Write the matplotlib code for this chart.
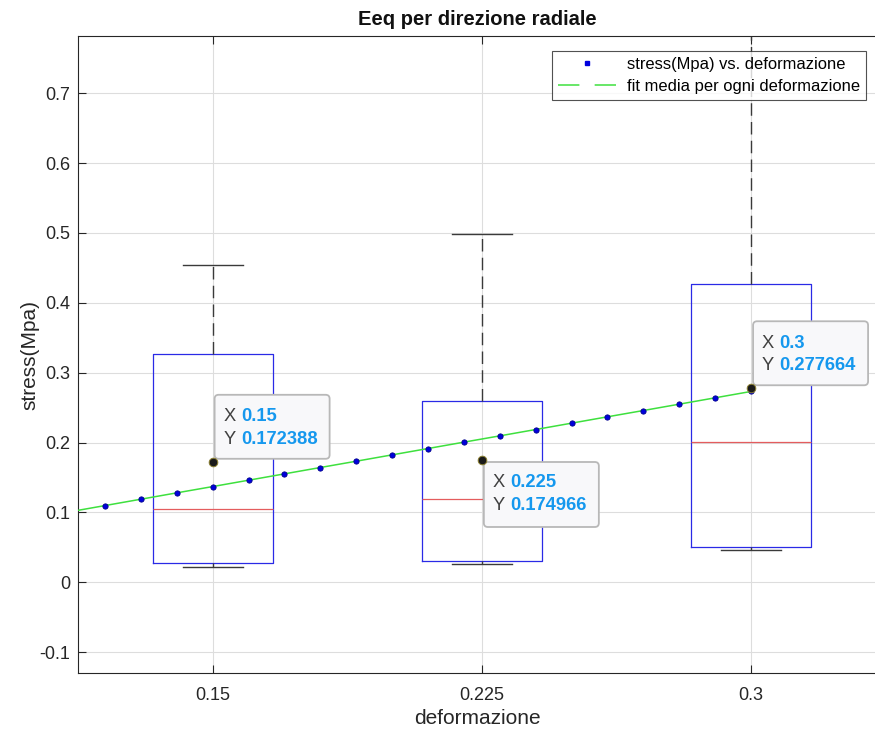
import matplotlib
matplotlib.use('Agg')
import matplotlib.pyplot as plt
import matplotlib.transforms as mtransforms
from matplotlib.patches import FancyBboxPatch
from matplotlib.lines import Line2D

plt.rcParams['font.family'] = ['Liberation Sans', 'DejaVu Sans']

# ---------------- data ----------------
categories = ['0.15', '0.225', '0.3']
positions = [0.15, 0.225, 0.3]
whisker_low = [0.0223, 0.0262, 0.0467]
q1 = [0.0272, 0.0301, 0.0508]
medians = [0.1045, 0.1189, 0.2005]
q3 = [0.3265, 0.2596, 0.4263]
whisker_high = [0.4544, 0.4984, 0.85]
means = [0.172388, 0.174966, 0.277664]

fit_x = [0.10, 0.11, 0.12, 0.13, 0.14, 0.15, 0.16, 0.17, 0.18, 0.19, 0.20,
         0.21, 0.22, 0.23, 0.24, 0.25, 0.26, 0.27, 0.28, 0.29, 0.30]
fit_y = [0.0916, 0.1006, 0.1097, 0.1188, 0.1279, 0.1369, 0.1460, 0.1551,
         0.1642, 0.1732, 0.1823, 0.1914, 0.2005, 0.2095, 0.2186, 0.2277,
         0.2368, 0.2458, 0.2549, 0.2640, 0.2731]

y_ticks = [-0.1, 0.0, 0.1, 0.2, 0.3, 0.4, 0.5, 0.6, 0.7]
y_tick_labels = ['-0.1', '0', '0.1', '0.2', '0.3', '0.4', '0.5', '0.6', '0.7']

legend_labels = ['stress(Mpa) vs. deformazione', 'fit media per ogni deformazione']

# ---------------- figure ----------------
W, H = 875, 731
fig = plt.figure(figsize=(W / 100, H / 100), dpi=100)
ax_left, ax_right, ax_top, ax_bottom = 78, 876, 36, 673
ax = fig.add_axes([ax_left / W, (H - ax_bottom) / H,
                   (ax_right - ax_left) / W, (ax_bottom - ax_top) / H])

ax.grid(True, color='#dddddd', lw=0.8, zorder=0)
ax.set_axisbelow(True)

stats = []
for i in range(len(positions)):
    stats.append(dict(whislo=whisker_low[i], q1=q1[i], med=medians[i],
                      q3=q3[i], whishi=whisker_high[i], fliers=[]))

ax.bxp(stats, positions=positions, widths=0.0334, capwidths=0.0167,
       showfliers=False, manage_ticks=False,
       boxprops=dict(color='#2a2ae6', lw=0.9),
       medianprops=dict(color='#e45c5e', lw=0.9),
       whiskerprops=dict(color='#3a3a3a', lw=1.0, linestyle=(0, (9, 4.5))),
       capprops=dict(color='#3a3a3a', lw=1.0))

# fit line + points
ax.plot(fit_x, fit_y, color='#3ee03e', lw=1.1, zorder=4)
ax.plot(fit_x, fit_y, 'o', color='#0000dd', ms=3.8, mec='#00008b', mew=0.6,
        ls='none', zorder=5)

# mean points (data tips)
ax.plot(positions, means, 'o', mfc='#1a1a1a', mec='#8a7e30', ms=6.2, mew=0.7,
        ls='none', zorder=13)

ax.set_xlim(0.1125, 0.3348)
ax.set_ylim(-0.13, 0.782)
ax.set_xticks(positions)
ax.set_xticklabels(categories)
ax.set_yticks(y_ticks)
ax.set_yticklabels(y_tick_labels)
ax.tick_params(direction='in', length=6, width=0.8, top=True, right=False,
               labelsize=13, colors='#262626')
ax.tick_params(axis='x', pad=10)
ax.tick_params(axis='y', pad=5.5)
for s in ax.spines.values():
    s.set_color('#262626')
    s.set_linewidth(0.8)
ax.spines['right'].set_visible(False)

ax.set_xlabel('deformazione', fontsize=15, color='#262626', labelpad=4)
ax.set_ylabel('stress(Mpa)', fontsize=15, color='#262626', va='center')
ax.yaxis.set_label_coords((30 - ax_left) / (ax_right - ax_left), 0.5)
ax.set_title('Eeq per direzione radiale', fontsize=14.5, fontweight='bold',
             color='#111111', pad=8)

# legend
handles = [Line2D([], [], marker='s', ms=3, color='#0000dd', ls='none'),
           Line2D([], [], color='#3ee03e', lw=1.1, ls=(0, (14, 10)))]
leg = ax.legend(handles, legend_labels, loc='upper right',
                bbox_to_anchor=((866 - ax_left) / (ax_right - ax_left),
                                (ax_bottom - 51) / (ax_bottom - ax_top)),
                borderaxespad=0, fontsize=11.9, frameon=True, fancybox=False,
                handlelength=3.5, handletextpad=0.7, labelspacing=0.42,
                borderpad=0.35)
leg.get_frame().set_edgecolor('#262626')
leg.get_frame().set_linewidth(0.8)
leg.set_zorder(20)

# data tips
directions = ['up', 'down', 'up']
for x, y, d in zip(positions, means, directions):
    trans = mtransforms.Affine2D() + mtransforms.ScaledTranslation(x, y, ax.transData)
    if d == 'up':
        bx, by, bw, bh = 2, 3, 115, 64
        ty_x, ty_y = 45, 22.5
    else:
        bx, by, bw, bh = 2, -67, 115, 65
        ty_x, ty_y = -22.5, -45.5
    patch = FancyBboxPatch((bx, by), bw, bh,
                           boxstyle='round,pad=0,rounding_size=4',
                           transform=trans, fc='#f8f8fa', ec='#b8b8b8',
                           lw=1.3, zorder=11, clip_on=False)
    ax.add_artist(patch)
    for lab, val, dy in (('X', f'{x:g}', ty_x), ('Y', f'{y:g}', ty_y)):
        ax.text(11, dy, lab, transform=trans, ha='left', va='center',
                fontsize=13.2, color='#404040', zorder=12)
        ax.text(28.5, dy, val, transform=trans, ha='left', va='center',
                fontsize=13.2, color='#1598ee', fontweight='bold', zorder=12)

fig.savefig('out.png', dpi=100)
